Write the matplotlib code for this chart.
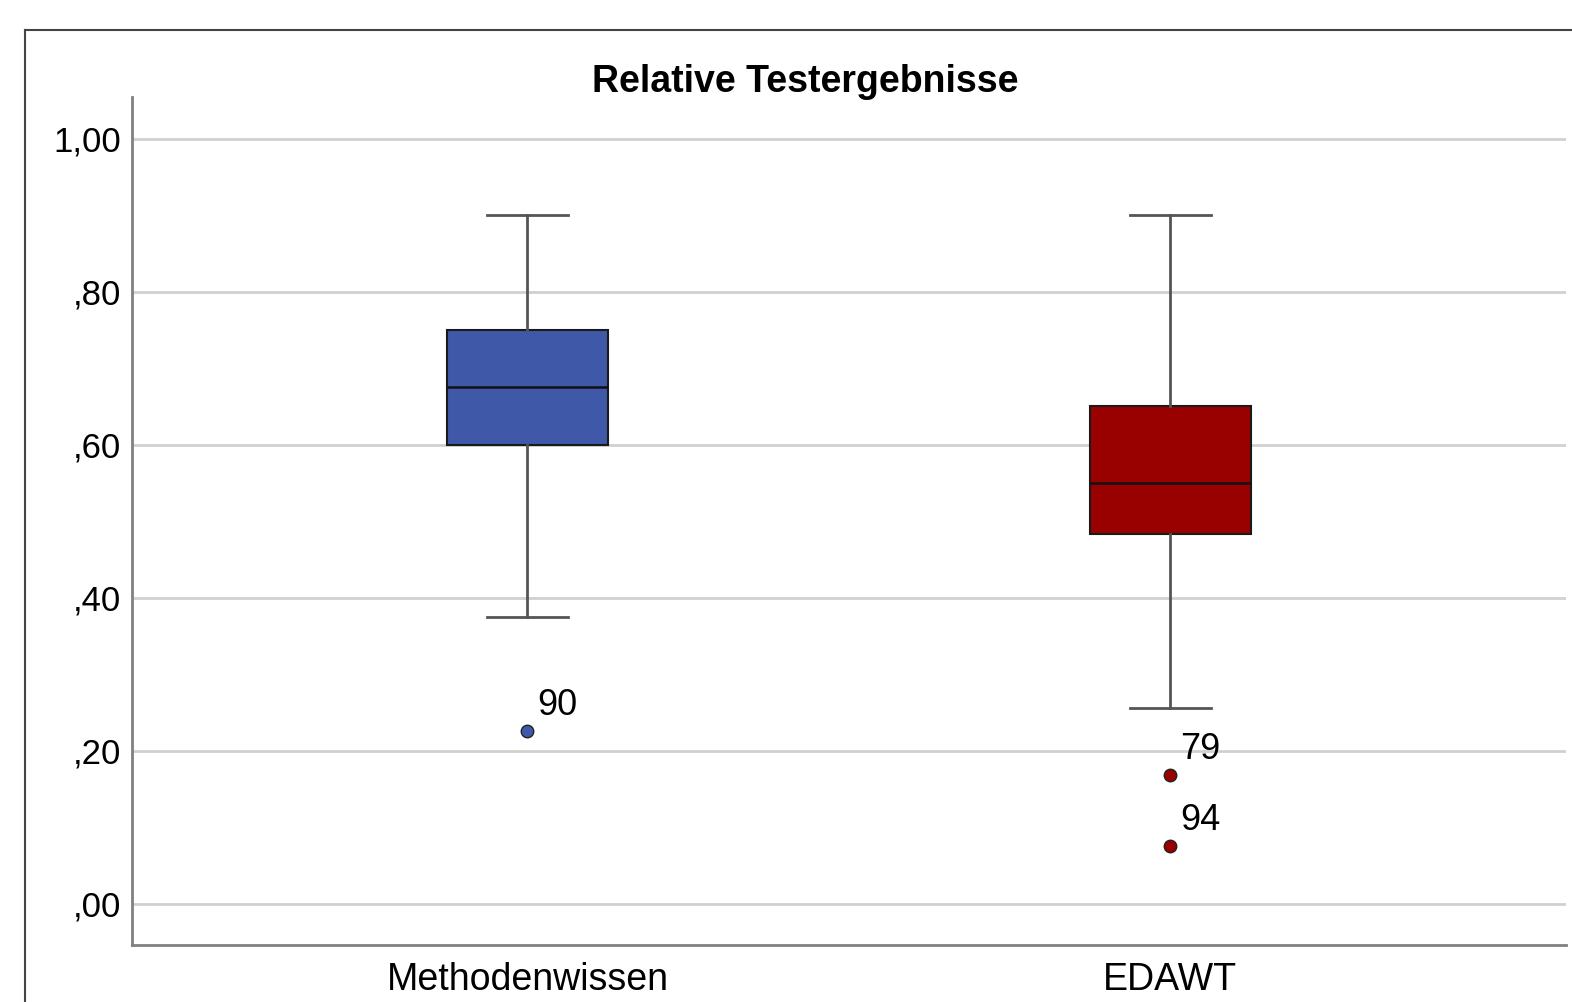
import matplotlib.pyplot as plt
from matplotlib.lines import Line2D

plt.rcParams['font.family'] = ['Liberation Sans', 'DejaVu Sans']

# Daten
categories = ['Methodenwissen', 'EDAWT']
whisker_low = [0.375, 0.255]
q1 = [0.60, 0.483]
medians = [0.675, 0.55]
q3 = [0.75, 0.65]
whisker_high = [0.90, 0.90]
outliers = [[0.225], [0.168, 0.075]]
outlier_ids = [['90'], ['79', '94']]
colors = ['#3f59a8', '#990000']

yticks = [0.0, 0.2, 0.4, 0.6, 0.8, 1.0]
ytick_labels = [',00', ',20', ',40', ',60', ',80', '1,00']

fig = plt.figure(figsize=(15.72, 10.02), dpi=100)
ax = fig.add_axes([0.084, 0.057, 0.912, 0.846])

stats = []
for i in range(len(categories)):
    stats.append({'whislo': whisker_low[i], 'q1': q1[i], 'med': medians[i],
                  'q3': q3[i], 'whishi': whisker_high[i], 'fliers': []})

positions = [1, 2]
bp = ax.bxp(stats, positions=positions, widths=0.25, capwidths=0.126,
            patch_artist=True, showfliers=False,
            boxprops=dict(edgecolor='#1a1a1a', linewidth=1.5),
            medianprops=dict(color='#111111', linewidth=1.8),
            whiskerprops=dict(color='#555555', linewidth=2),
            capprops=dict(color='#555555', linewidth=2), zorder=3)
for patch, c in zip(bp['boxes'], colors):
    patch.set_facecolor(c)

# Ausreißer mit Fallnummern
for pos, vals, ids, c in zip(positions, outliers, outlier_ids, colors):
    for v, lab in zip(vals, ids):
        ax.plot(pos, v, 'o', color=c, markeredgecolor='#222222',
                markeredgewidth=1, markersize=9, zorder=4)
        ax.annotate(lab, (pos, v), xytext=(7, 6), textcoords='offset points',
                    fontsize=26, ha='left', va='bottom')

ax.set_xlim(0.385, 2.615)
ax.set_ylim(-0.054, 1.054)
ax.set_yticks(yticks)
ax.set_yticklabels(ytick_labels)
ax.set_xticks(positions)
ax.set_xticklabels(categories)
ax.tick_params(axis='both', length=0, labelsize=25)
ax.tick_params(axis='y', pad=8)
ax.tick_params(axis='x', pad=12, labelsize=27)
ax.yaxis.grid(True, color='#d0d0d0', linewidth=2)
ax.set_axisbelow(True)

for side in ['top', 'right']:
    ax.spines[side].set_visible(False)
for side in ['left', 'bottom']:
    ax.spines[side].set_color('#808080')
    ax.spines[side].set_linewidth(2)

fig.text(0.512, 0.918, 'Relative Testergebnisse', ha='center', va='center',
         fontsize=27, fontweight='bold')

# Rahmen um die Grafik
fig.add_artist(Line2D([0.016, 1.0], [0.970, 0.970], color='#444444', linewidth=1.5,
                      transform=fig.transFigure))
fig.add_artist(Line2D([0.016, 0.016], [0.0, 0.970], color='#444444', linewidth=1.5,
                      transform=fig.transFigure))

fig.savefig('out.png', dpi=100)
